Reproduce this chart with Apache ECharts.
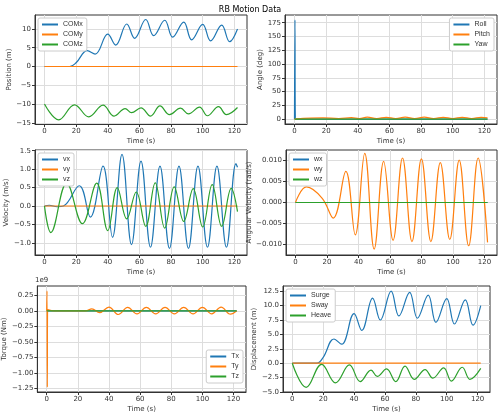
<!DOCTYPE html>
<html>
<head>
<meta charset="UTF-8">
<script src="https://cdn.jsdelivr.net/npm/echarts@6/dist/echarts.min.js"></script>
</head>
<body style="margin:0">
<div id="main" style="width:500px;height:414px"></div>
<script>
// data: [time, value]
var comX = [[0,0],[10,0],[16,0],[20,1],[27,4.2],[32,3.3],[40,8.6],[45,5.7],[52,11.3],[57,7.5],[64,12.5],[69,8.2],[76,12.3],[81,7.8],[88,11.8],[93,7.1],[100,11.2],[105,6.8],[112,11],[117,6.6],[122,10]];
var comY = [[0,0],[122,0]];
var heave = [[0,0],[9,-4.2],[19,-0.2],[28,-3.4],[37,-0.3],[44,-3.2],[51,-1.2],[55,-2.3],[61,-1.0],[67,-3.2],[73,-0.5],[79,-2.8],[86,-1.1],[91,-2.6],[98,-0.8],[103,-3.1],[110,-0.7],[115,-2.8],[122,-0.9]];
var comZ = [[0,-10],[9,-14.2],[19,-10.2],[28,-13.4],[37,-10.3],[44,-13.2],[51,-11.2],[55,-12.3],[61,-11],[67,-13.2],[73,-10.5],[79,-12.8],[86,-11.1],[91,-12.6],[98,-10.8],[103,-13.1],[110,-10.7],[115,-12.8],[122,-10.9]];
var roll = [[0,0],[0.3,180],[0.6,0],[122,0]];
var pitch = [[0,0],[10,1.5],[18,2],[28,1],[36,2.5],[41,1],[46,3.5],[52,1],[58,3],[64,1],[70,3.5],[76,1],[82,3.5],[88,1],[94,3],[100,1],[106,3],[112,1],[118,3],[122,2]];
var yaw = [[0,0],[122,0]];
var vx = [[0,0],[3,0.02],[8,-0.02],[12,0],[22,0.55],[29,-0.3],[37,1.08],[43,-0.85],[49,1.4],[55,-1.05],[61,1.22],[67,-1.12],[73,1.08],[79,-1.15],[85,1.08],[91,-1.15],[97,1.08],[103,-1.12],[109,1.08],[115,-1.12],[121,1.15],[122,1.05]];
var vy = [[0,0],[122,0]];
var vz = [[0,0],[4,-0.72],[14,0.62],[24,-0.48],[33,0.62],[40,-0.67],[46,0.5],[52,-0.35],[58,0.38],[64,-0.55],[70,0.63],[76,-0.6],[82,0.52],[88,-0.42],[94,0.47],[100,-0.57],[106,0.58],[112,-0.55],[118,0.48],[122,-0.15]];
var wx = [[0,0],[122,0]];
var wy = [[0,0],[7,0.0037],[17,0.001],[24,-0.0037],[32,0.0074],[38,-0.0077],[44,0.0117],[50,-0.0111],[56,0.0098],[62,-0.009],[68,0.0106],[74,-0.0093],[80,0.0104],[86,-0.0093],[92,0.0095],[98,-0.0088],[104,0.0101],[110,-0.0103],[116,0.0106],[122,-0.0095]];
var wz = [[0,0],[122,0]];
var tx = [[0,0],[122,0]];
var ty = [[0,0],[0.2,0.32],[0.4,-1.23],[0.6,0.02],[5,0],[25,0],[29,0.03],[34,-0.03],[40,0.06],[46,-0.06],[52,0.055],[58,-0.05],[64,0.055],[70,-0.05],[76,0.055],[82,-0.05],[88,0.055],[94,-0.05],[100,0.055],[106,-0.05],[112,0.06],[118,-0.055],[122,0]];
var tz = [[0,0],[122,0]];
var xTicks = [0,20,40,60,80,100,120];

var C = ['#1f77b4','#ff7f0e','#2ca02c'];
// pixel boxes [left, top, right, bottom]
var boxes = [[35,15,247,124],[285,15,497,124],[35,150,247,255],[286,150,497,255],[35,286,246,392],[283,286,490,392]];
var yCfg = [
  {name:'Position (m)', min:-15.3, max:13.7, ticks:[-15,-10,-5,0,5,10], dp:0, gap:20},
  {name:'Angle (deg)', min:-9, max:189, ticks:[0,25,50,75,100,125,150,175], dp:0, gap:20},
  {name:'Velocity (m/s)', min:-1.33, max:1.52, ticks:[-1,-0.5,0,0.5,1,1.5], dp:1, gap:22},
  {name:'Angular Velocity (rad/s)', min:-0.0125, max:0.0125, ticks:[-0.01,-0.005,0,0.005,0.01], dp:3, gap:30},
  {name:'Torque (Nm)', min:-1.31, max:0.40, ticks:[-1.25,-1,-0.75,-0.5,-0.25,0,0.25], dp:2, gap:26},
  {name:'Displacement (m)', min:-5.0, max:13.4, ticks:[-5,-2.5,0,2.5,5,7.5,10,12.5], dp:1, gap:24}
];
var sets = [
  [['COMx',comX],['COMy',comY],['COMz',comZ]],
  [['Roll',roll],['Pitch',pitch],['Yaw',yaw]],
  [['vx',vx],['vy',vy],['vz',vz]],
  [['wx',wx],['wy',wy],['wz',wz]],
  [['Tx',tx],['Ty',ty],['Tz',tz]],
  [['Surge',comX],['Sway',comY],['Heave',heave]]
];
var legendPos = ['tl','tr','tl','tl','br','tl'];

var grid = [], xAxis = [], yAxis = [], series = [], legend = [];
boxes.forEach(function(b, i){
  grid.push({left:b[0], top:b[1], width:b[2]-b[0], height:b[3]-b[1], show:true, borderColor:'#333', borderWidth:1});
  var axisText = {color:'#333', fontSize:7, fontFamily:'DejaVu Sans'};
  xAxis.push({type:'value', gridIndex:i, min:-6, max:128, name:'Time (s)', nameLocation:'middle', nameGap:14,
    nameTextStyle:axisText,
    axisLine:{onZero:false, lineStyle:{color:'#333'}}, axisTick:{customValues:xTicks, length:3},
    axisLabel:Object.assign({customValues:xTicks, margin:4}, axisText),
    splitLine:{show:true, lineStyle:{color:'#ddd'}}});
  var y = yCfg[i];
  yAxis.push({type:'value', gridIndex:i, min:y.min, max:y.max, name:y.name, nameLocation:'middle', nameGap:y.gap,
    nameTextStyle:axisText,
    axisLine:{show:true, onZero:false, lineStyle:{color:'#333'}}, axisTick:{show:true, customValues:y.ticks, length:3},
    axisLabel:Object.assign({customValues:y.ticks, margin:4, formatter:function(v){ return v.toFixed(y.dp).replace('-','\u2212'); }}, axisText),
    splitLine:{show:true, lineStyle:{color:'#ddd'}}});
  var names = [];
  sets[i].forEach(function(s, k){
    names.push(s[0]);
    series.push({type:'line', name:s[0], xAxisIndex:i, yAxisIndex:i, data:s[1], smooth:0.4,
      showSymbol:false, lineStyle:{width:1.2, color:C[k]}, itemStyle:{color:C[k]}});
  });
  var lg = {data:names, orient:'vertical', itemWidth:16, itemHeight:2, itemGap:3, icon:'rect',
    textStyle:{fontSize:7, color:'#333'}, backgroundColor:'#fff', borderColor:'#ccc', borderWidth:1, borderRadius:2, padding:[3,4]};
  if (legendPos[i]=='tl'){ lg.left=b[0]+3; lg.top=b[1]+3; }
  else if (legendPos[i]=='tr'){ lg.right=500-b[2]+3; lg.top=b[1]+3; }
  else { lg.right=500-b[2]+3; lg.top=b[3]-42; }
  legend.push(lg);
});

var myChart = echarts.init(document.getElementById('main'));
myChart.setOption({
  backgroundColor:'#fff',
  animation:false,
  title:{text:'RB Motion Data', left:'center', top:1, textStyle:{fontSize:8, fontWeight:'normal', color:'#000', fontFamily:'DejaVu Sans'}},
  graphic:[{type:'text', left:35, top:277, style:{text:'1e9', fontSize:7, fill:'#333', fontFamily:'DejaVu Sans'}}],
  grid:grid, xAxis:xAxis, yAxis:yAxis, legend:legend, series:series
});
</script>
</body>
</html>
